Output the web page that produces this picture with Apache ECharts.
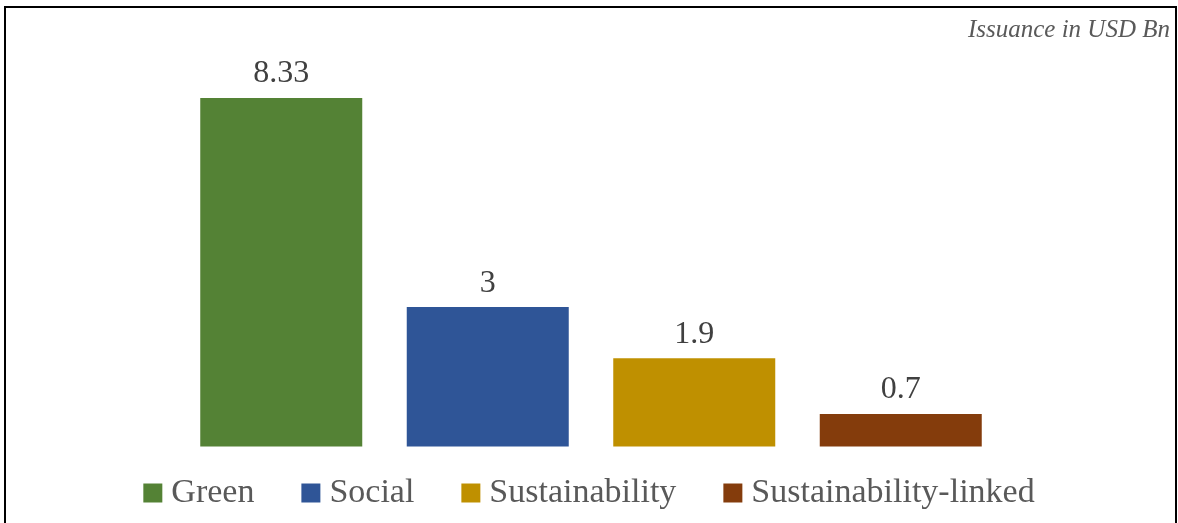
<!DOCTYPE html>
<html>
<head>
<meta charset="utf-8">
<script src="https://cdn.jsdelivr.net/npm/echarts@6/dist/echarts.min.js"></script>
<style>
html,body{margin:0;padding:0;background:#fff;}
#chart{position:absolute;left:0;top:0;width:1178px;height:523px;}
#frame{position:absolute;left:4px;top:6px;width:1169px;height:540px;border:2px solid #000;pointer-events:none;}
</style>
</head>
<body>
<div id="chart"></div>
<div id="frame"></div>
<script>
const categories = ['Green', 'Social', 'Sustainability', 'Sustainability-linked'];
const values = [8.33, 3, 1.9, 0.7];
const colors = ['#548235', '#2F5597', '#BF9000', '#843C0C'];
const unitTitle = 'Issuance in USD Bn';

const FONT = '"Liberation Serif", "Times New Roman", serif';

const series = categories.map((name, i) => ({
  name: name,
  type: 'bar',
  stack: 'total',
  barWidth: 162,
  itemStyle: { color: colors[i] },
  label: {
    show: true,
    position: 'top',
    distance: 8,
    fontFamily: FONT,
    fontSize: 32,
    color: '#404040'
  },
  data: categories.map((c, j) => (j === i ? values[i] : '-'))
}));

const chart = echarts.init(document.getElementById('chart'));
chart.setOption({
  animation: false,
  backgroundColor: '#fff',
  title: {
    text: unitTitle,
    right: 3,
    top: 13,
    textStyle: { fontFamily: FONT, fontStyle: 'italic', fontWeight: 'normal', fontSize: 25, color: '#595959' }
  },
  legend: {
    data: categories,
    left: 'center',
    top: 471,
    itemWidth: 19,
    itemHeight: 19,
    itemGap: 47,
    icon: 'rect',
    textStyle: { fontFamily: FONT, fontSize: 34, color: '#595959', padding: [0, 0, 0, 4] }
  },
  grid: { left: 178, width: 826, top: 98, bottom: 76.5 },
  xAxis: {
    type: 'category',
    data: categories,
    show: false
  },
  yAxis: {
    type: 'value',
    min: 0,
    max: 7.5,
    show: false
  },
  series: series
});
</script>
</body>
</html>
